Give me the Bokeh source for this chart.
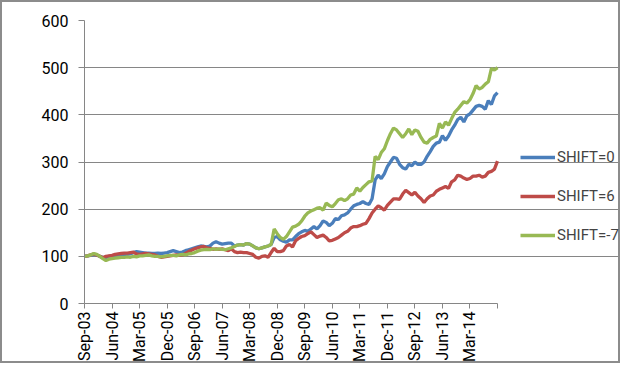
import math
from bokeh.plotting import figure
from bokeh.models import ColumnDataSource, Legend, LegendItem, FixedTicker, Range1d
from bokeh.embed import file_html
from bokeh.resources import INLINE

TICK_LABELS = ["Sep-03", "Jun-04", "Mar-05", "Dec-05", "Sep-06", "Jun-07", "Mar-08",
               "Dec-08", "Sep-09", "Jun-10", "Mar-11", "Dec-11", "Sep-12", "Jun-13", "Mar-14"]

SHIFT_0 = [100, 101, 102, 104, 103, 100, 98, 97, 100, 101,
           102, 103, 104, 103, 104, 105, 108, 110, 109, 108,
           107, 107, 106, 106, 107, 106, 107, 108, 110, 112,
           110, 108, 109, 112, 114, 116, 118, 120, 122, 121,
           120, 122, 128, 131, 128, 126, 127, 128, 128, 122,
           124, 125, 124, 127, 126, 122, 118, 116, 118, 120,
           122, 125, 140, 142, 135, 132, 130, 135, 135, 142,
           148, 152, 155, 153, 158, 163, 158, 165, 175, 172,
           165, 170, 180, 178, 186, 188, 192, 200, 207, 210,
           212, 216, 212, 210, 222, 262, 272, 265, 275, 290,
           300, 310, 308, 295, 288, 285, 295, 292, 300, 295,
           295, 300, 312, 322, 333, 340, 342, 356, 346, 355,
           368, 378, 390, 395, 385, 398, 402, 410, 418, 420,
           418, 412, 430, 422, 440, 447]

SHIFT_6 = [100, 101, 103, 105, 103, 100, 97, 100, 101, 102,
           104, 105, 106, 107, 107, 108, 109, 105, 104, 105,
           106, 105, 104, 103, 100, 98, 99, 100, 101, 102,
           103, 102, 103, 106, 110, 113, 116, 118, 120, 121,
           118, 117, 115, 116, 115, 116, 114, 112, 116, 110,
           108, 109, 108, 108, 106, 104, 98, 96, 100, 101,
           98, 108, 117, 110, 110, 112, 122, 125, 120, 133,
           138, 142, 144, 148, 152, 146, 140, 143, 145, 140,
           133, 134, 137, 140, 145, 150, 153, 160, 163, 163,
           165, 168, 170, 180, 192, 200, 207, 203, 198, 208,
           215, 222, 222, 221, 232, 240, 235, 230, 236, 228,
           222, 214, 222, 228, 230, 238, 242, 245, 248, 244,
           258, 262, 272, 270, 266, 263, 265, 270, 270, 272,
           268, 270, 278, 280, 285, 302]

SHIFT_M7 = [100, 101, 103, 106, 104, 100, 95, 91, 94, 95,
            96, 97, 98, 98, 99, 98, 100, 99, 101, 101,
            102, 103, 101, 100, 100, 99, 100, 101, 102, 102,
            101, 103, 104, 103, 105, 106, 108, 111, 113, 114,
            115, 114, 116, 115, 116, 115, 114, 116, 118, 121,
            124, 125, 124, 127, 126, 122, 118, 116, 118, 120,
            122, 125, 158, 148, 140, 136, 142, 152, 162, 164,
            168, 175, 185, 192, 196, 199, 202, 203, 198, 213,
            208, 205, 212, 220, 222, 218, 222, 230, 232, 245,
            238, 246, 252, 258, 260, 312, 305, 320, 328, 345,
            360, 372, 368, 360, 352, 360, 370, 358, 368, 365,
            352, 342, 340, 348, 352, 355, 382, 372, 385, 378,
            392, 405, 412, 420, 428, 425, 432, 445, 462, 455,
            458, 465, 470, 498, 495, 500]

SERIES_NAMES = ["SHIFT=0", "SHIFT=6", "SHIFT=-7"]
COLORS = ["#4a7ebb", "#be4b48", "#98b954"]
TICK_STEP = 9  # months between labelled ticks

months = list(range(len(SHIFT_0)))
last = len(months) - 1
source = ColumnDataSource(dict(m=months, s0=SHIFT_0, s6=SHIFT_6, sm7=SHIFT_M7))

FONT = "Roboto"

# layout: plotting region 413 px wide, legend area to its right inside the same frame
W, H = 620, 363
LEFT, TOP, BOTTOM = 82, 18, 58
DATA_PX = 413
frame_w = W - LEFT
x_end = last * frame_w / DATA_PX

p = figure(width=W, height=H, output_backend="svg", toolbar_location=None,
           x_range=Range1d(0, x_end), y_range=Range1d(0, 600),
           min_border_left=LEFT, min_border_right=0, min_border_top=TOP, min_border_bottom=BOTTOM)
p.styles = {"border": "2px solid #8c8c8c"}
p.outline_line_color = None
p.background_fill_color = "white"
p.border_fill_color = "white"

renderers = []
for col, color in zip(["s0", "s6", "sm7"], COLORS):
    r = p.line("m", col, source=source, line_color=color, line_width=3.3)
    renderers.append(r)

tick_pos = [i * TICK_STEP for i in range(len(TICK_LABELS))] + [last]
p.xaxis.ticker = FixedTicker(ticks=tick_pos)
overrides = {i * TICK_STEP: lab for i, lab in enumerate(TICK_LABELS)}
overrides[last] = ""
p.xaxis.major_label_overrides = overrides
p.xaxis.bounds = (0, last)
p.xaxis.major_label_orientation = math.pi / 2
p.xaxis.minor_tick_line_color = None
p.xaxis.major_tick_in = 0
p.xaxis.major_tick_out = 5
p.xaxis.axis_line_color = "#868686"
p.xaxis.major_tick_line_color = "#868686"
p.xaxis.major_label_text_font = FONT
p.xaxis.major_label_text_font_size = "16px"
p.xaxis.major_label_text_color = "#000000"
p.xaxis.major_label_standoff = 3

p.yaxis.ticker = FixedTicker(ticks=[0, 100, 200, 300, 400, 500, 600])
p.yaxis.minor_tick_line_color = None
p.yaxis.major_tick_in = 0
p.yaxis.major_tick_out = 6
p.yaxis.axis_line_color = "#868686"
p.yaxis.major_tick_line_color = "#868686"
p.yaxis.major_label_text_font = FONT
p.yaxis.major_label_text_font_size = "16px"
p.yaxis.major_label_text_color = "#000000"
p.yaxis.major_label_standoff = 10

p.xgrid.grid_line_color = None
p.ygrid.grid_line_color = "#868686"
p.ygrid.grid_line_width = 1
p.ygrid.bounds = (0, last)

legend = Legend(items=[LegendItem(label=n, renderers=[r]) for n, r in zip(SERIES_NAMES, renderers)],
                location=(436, 58), orientation="vertical",
                glyph_width=35, glyph_height=20, label_height=20, spacing=19,
                padding=0, margin=0, label_standoff=2,
                label_text_font=FONT, label_text_font_size="15px",
                border_line_color=None, background_fill_alpha=0)
p.add_layout(legend)

open("out.html", "w").write(file_html(p, INLINE))
